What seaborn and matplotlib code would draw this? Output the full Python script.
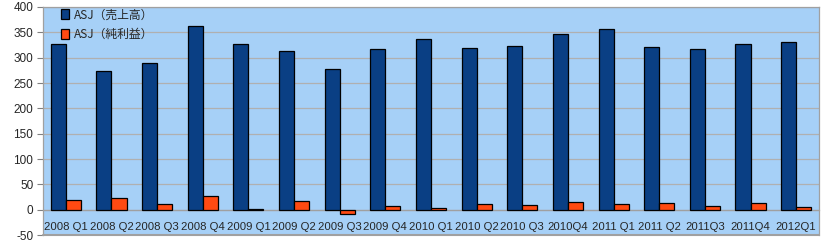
import matplotlib
matplotlib.use("Agg")
import matplotlib.pyplot as plt
import seaborn as sns
import pandas as pd
import numpy as np

categories = ["2008 Q1", "2008 Q2", "2008 Q3", "2008 Q4", "2009 Q1", "2009 Q2",
              "2009 Q3", "2009 Q4", "2010 Q1", "2010 Q2", "2010 Q3", "2010Q4",
              "2011 Q1", "2011 Q2", "2011Q3", "2011Q4", "2012Q1"]
sales = [327, 273, 289, 362, 326, 314, 277, 318, 336, 320, 324, 346,
         356, 322, 318, 326, 330]
profit = [20, 24, 12, 26, 1.5, 18, -9, 8, 4, 12, 10, 16, 12, 14, 8, 14, 6]
series_names = ["ASJ（売上高）", "ASJ（純利益）"]
yticks = list(range(-50, 401, 50))

df = pd.DataFrame({
    "cat": categories * 2,
    "val": sales + profit,
    "series": [series_names[0]] * len(categories) + [series_names[1]] * len(categories),
})

sns.set_style("white")
plt.rcParams["font.family"] = ["Liberation Sans", "Noto Sans CJK JP"]

fig = plt.figure(figsize=(8.24, 2.5), dpi=100)
ax = fig.add_axes([43 / 824, 1 - 235 / 250, 776 / 824, 228 / 250])
ax.set_facecolor("#A6D0F7")

sns.barplot(data=df, x="cat", y="val", hue="series", order=categories,
            hue_order=series_names, palette=["#0A3F84", "#FF4A12"],
            saturation=1, width=0.66, edgecolor="black", linewidth=0.9,
            ax=ax, zorder=3)

ax.set_ylim(-50, 400)
ax.set_xlim(-0.5, len(categories) - 0.5)
ax.set_yticks(yticks)
ax.set_yticklabels([str(t) for t in yticks], fontsize=8.5)
ax.yaxis.grid(True, color="#B0B0B0", linewidth=0.9, zorder=0)
ax.set_axisbelow(True)
ax.set_xlabel("")
ax.set_ylabel("")

for s in ["top", "right", "left"]:
    ax.spines[s].set_color("#A0A0A0")
    ax.spines[s].set_linewidth(0.9)
ax.spines["bottom"].set_position(("data", 0))
ax.spines["bottom"].set_color("#A0A0A0")
ax.spines["bottom"].set_linewidth(0.9)
ax.spines["bottom"].set_zorder(2)

ax.tick_params(axis="y", which="both", left=True, length=4, color="#808080",
               direction="out", pad=3, labelsize=8.5)
ax.set_xticks(range(len(categories)))
ax.set_xticklabels(categories, fontsize=8.2)
ax.tick_params(axis="x", which="major", length=0, pad=9)
ax.set_xticks(np.arange(0.5, len(categories) - 0.5, 1), minor=True)
ax.tick_params(axis="x", which="minor", length=3, color="#808080", direction="out")

# bottom border of plot area
ax.axhline(-50, color="#A0A0A0", linewidth=1.5, zorder=5, clip_on=False)

leg = ax.legend(loc="upper left", bbox_to_anchor=(0.012, 1.03), frameon=False,
                fontsize=8.5, handlelength=0.75, handleheight=0.9,
                handletextpad=0.35, labelspacing=0.55, borderaxespad=0.3)
for t in leg.get_texts():
    t.set_family(["Noto Sans CJK JP", "Liberation Sans"])

fig.savefig("out.png", dpi=100, facecolor="white")
